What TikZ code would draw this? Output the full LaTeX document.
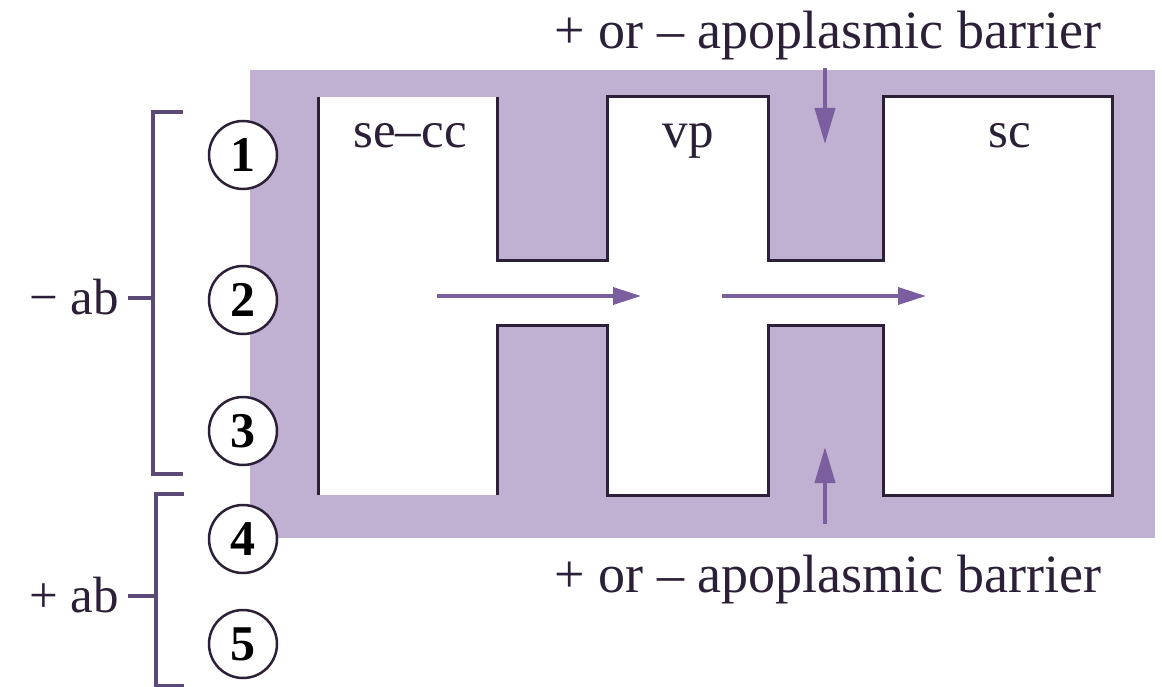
\documentclass[tikz,border=0pt]{standalone}
\usepackage{fontspec}
\setmainfont{Liberation Serif}
\usetikzlibrary{arrows.meta}
\definecolor{wallpurple}{HTML}{C0B1D2}
\definecolor{flowpurple}{HTML}{7A5E9E}
\definecolor{bracketpurple}{HTML}{5B4A78}
\definecolor{ink}{HTML}{2B2038}
\begin{document}
\begin{tikzpicture}[x=1pt,y=-1pt,
    lbl/.style={font=\fontsize{51}{60}\selectfont, text=ink, inner sep=0pt},
    site/.style={circle, draw=ink, line width=2.5pt, fill=white, minimum size=68pt,
      inner sep=0pt, font=\fontsize{50}{56}\selectfont\bfseries, text=black},
    wall/.style={draw=ink, line width=3pt, line join=miter},
    flow/.style={draw=flowpurple, line width=3.5pt, -{Triangle[length=28pt,width=17pt]}},
    barrier/.style={draw=flowpurple, line width=4pt, -{Triangle[length=36pt,width=20pt]}},
    brace/.style={draw=bracketpurple, line width=3.5pt}]
  \useasboundingbox (0,0) rectangle (1162,687);
  % apoplast
  \fill[wallpurple] (250,70) rectangle (1155,538);
  % se-cc, vp and sc with the two channels
  \fill[white] (318,97) rectangle (497,495);
  \fill[white] (607,97) rectangle (768,495);
  \fill[white] (883,97) rectangle (1112,495);
  \fill[white] (497,260) rectangle (607,325);
  \fill[white] (768,260) rectangle (883,325);
  \draw[wall] (318,97) -- (318,495);
  \draw[wall] (497,97) -- (497,260) -- (607,260) -- (607,97) -- (768,97) -- (768,260)
    -- (883,260) -- (883,97) -- (1112,97) -- (1112,495) -- (883,495) -- (883,325)
    -- (768,325) -- (768,495) -- (607,495) -- (607,325) -- (497,325) -- (497,495);
  \node[lbl, anchor=base] (secc) at (410,148) {se–cc};
  \node[lbl, anchor=base] (vp) at (688,148) {vp};
  \node[lbl, anchor=base] (sc) at (1010,148) {sc};
  % symplasmic flow
  \coordinate (f1) at (437,296);
  \coordinate (f2) at (641,296);
  \coordinate (f3) at (722,296);
  \coordinate (f4) at (926,296);
  \draw[flow] (f1) -- (f2);
  \draw[flow] (f3) -- (f4);
  % barriers
  \node[lbl, font=\fontsize{54}{60}\selectfont, anchor=base] (barrtop) at (828,49) {+ or – apoplasmic barrier};
  \node[lbl, font=\fontsize{54}{60}\selectfont, anchor=base] (barrbot) at (828,592) {+ or – apoplasmic barrier};
  \coordinate (bt1) at (825,68);
  \coordinate (bt2) at (825,144);
  \coordinate (bb1) at (825,524);
  \coordinate (bb2) at (825,447);
  \draw[barrier] (bt1) -- (bt2);
  \draw[barrier] (bb1) -- (bb2);
  % loading sites
  \foreach \n/\y in {1/155,2/300,3/431,4/539,5/644}
    \node[site] (s\n) at (243,\y) {\n};
  \draw[brace] (183,112) -- (153,112) -- (153,474) -- (183,474) (153,298) -- (128,298);
  \draw[brace] (184,494) -- (156,494) -- (156,686) -- (184,686) (156,596) -- (128,596);
  \node[lbl, anchor=base east] (minusab) at (119,314) {− ab};
  \node[lbl, anchor=base east] (plusab) at (119,612) {+ ab};
\end{tikzpicture}
\end{document}
